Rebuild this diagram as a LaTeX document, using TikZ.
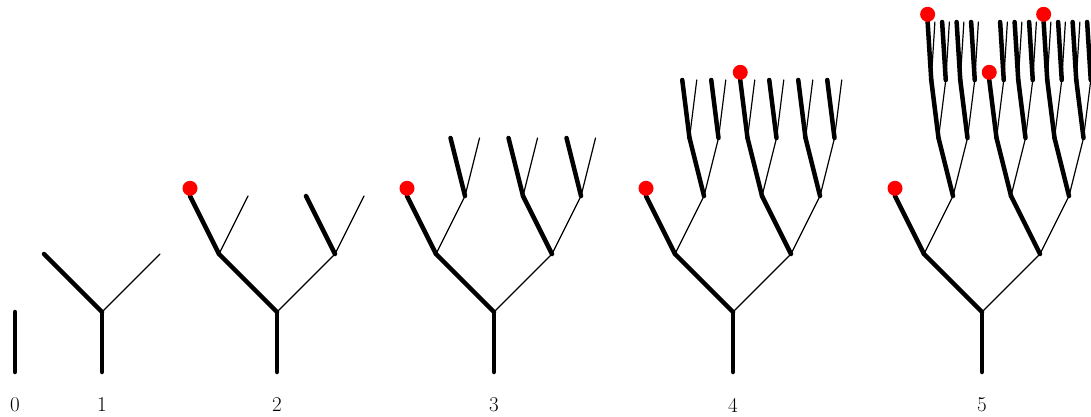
\documentclass[tikz,border=0pt]{standalone}
\usetikzlibrary{calc}
\tikzset{
  oldbranch/.style={line width=4.5pt, line cap=round},
  newbranch/.style={line width=1.2pt, line cap=round},
  bud/.style={circle, fill=red, inner sep=0pt, minimum size=15pt, anchor=south},
  stagelabel/.style={font=\fontsize{21}{25}\selectfont}
}
% #1 = node, #2 = level, #3 = run of thick branches, #4 = stage
\newcommand\sprout[4]{%
  \ifnum#3>2\relax
    \node[bud] (#1-bud) at (#1) {};
  \else\ifnum#2<#4\relax
    \pgfmathsetmacro\spread{58/pow(2,#2)}
    \coordinate (#1-l) at ($(#1)+(-\spread,58)$);
    \coordinate (#1-r) at ($(#1)+(\spread,58)$);
    \draw[newbranch] (#1) -- (#1-r);
    \draw[oldbranch] (#1) -- (#1-l);
    \sprout{#1-l}{\the\numexpr#2+1\relax}{\the\numexpr#3+1\relax}{#4}%
    \sprout{#1-r}{\the\numexpr#2+1\relax}{0}{#4}%
  \fi\fi}

\begin{document}
\begin{tikzpicture}[x=1pt,y=1pt]
\useasboundingbox (0,0) rectangle (1091,416);
%% one tree per stage
\foreach \n/\x in {0/15, 1/102, 2/277, 3/494, 4/733, 5/982}
{
  \coordinate (b\n) at (\x,44);
  \coordinate (s\n) at (\x,104);
  \draw[oldbranch] (b\n) -- (s\n);
  \sprout{s\n}{0}{1}{\n}
  \node[stagelabel] (lab\n) at (\x,11) {\n};
}
\end{tikzpicture}
\end{document}
